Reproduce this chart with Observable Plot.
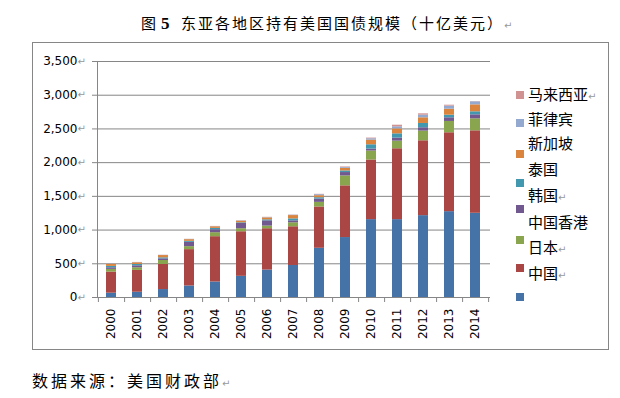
<!DOCTYPE html>
<html><head><meta charset="utf-8">
<script src="https://cdn.jsdelivr.net/npm/d3@7"></script>
<script src="https://cdn.jsdelivr.net/npm/@observablehq/plot@0.6"></script>
<style>
body{margin:0;background:#fff;}
#wrap{position:relative;width:620px;height:398px;overflow:hidden;}
#wrap svg{position:absolute;left:0;top:0;}
.box{position:absolute;left:32px;top:42px;width:577px;height:308px;border:1px solid #868686;box-sizing:border-box;}
.cjk{position:absolute;font-family:"Noto Sans CJK SC","Noto Sans",sans-serif;color:#000;white-space:nowrap;}
.pm{font-family:"DejaVu Sans",sans-serif;color:#999;font-size:10px;letter-spacing:0;}
.sw{position:absolute;width:8px;height:8px;}
</style></head>
<body><div id="wrap"><div class="box"></div></div>
<script>
const years = ["2000","2001","2002","2003","2004","2005","2006","2007","2008","2009","2010","2011","2012","2013","2014"];
// stacking order, bottom to top
const seriesNames = ["中国","日本","中国香港","韩国","泰国","新加坡","菲律宾","马来西亚"];
const seriesColors = ["#4572A7","#AA4643","#89A54E","#71588F","#4198AF","#DB843D","#93A9CF","#D19392"];
const china     = [64, 78, 118, 171, 230, 314, 407, 475, 730, 889, 1155, 1155, 1214, 1273, 1249];
const japan     = [313, 324, 372, 539, 672, 661, 613, 574, 613, 767, 884, 1051, 1110, 1170, 1223];
const hongkong  = [40, 39, 59, 44, 59, 45, 39, 59, 68, 147, 133, 113, 144, 168, 178];
const korea     = [24, 29, 24, 64, 44, 78, 78, 29, 49, 50, 29, 45, 49, 54, 59];
const thailand  = [20, 20, 15, 15, 20, 10, 15, 29, 20, 24, 64, 63, 64, 39, 45];
const singapore = [29, 25, 34, 25, 24, 24, 29, 49, 30, 39, 69, 74, 84, 89, 103];
const philippines = [3, 3, 3, 3, 3, 5, 5, 5, 15, 12, 20, 30, 39, 45, 45];
const malaysia  = [2, 2, 2, 2, 2, 3, 3, 3, 5, 8, 10, 24, 20, 14, 3];
const yTicks = [0, 500, 1000, 1500, 2000, 2500, 3000, 3500];

const seriesValues = [china, japan, hongkong, korea, thailand, singapore, philippines, malaysia];
const data = [];
seriesNames.forEach((s, k) => years.forEach((y, i) => data.push({year: y, series: s, value: seriesValues[k][i]})));

const gray = "#868686";
const mL = 97, mR = 130, W = 620;
const step = (W - mL - mR) / years.length;

const chart = Plot.plot({
  width: W, height: 398,
  marginLeft: mL, marginRight: mR, marginTop: 61, marginBottom: 101,
  style: {fontFamily: "DejaVu Sans", fontSize: "12px", background: "transparent", color: "#000", overflow: "visible"},
  x: {type: "band", domain: years, padding: 0.6, paddingOuter: 0.3, label: null},
  y: {domain: [0, 3500], label: null},
  color: {domain: seriesNames, range: seriesColors},
  marks: [
    Plot.gridY(yTicks, {stroke: gray, strokeOpacity: 1}),
    Plot.frame({anchor: "left", stroke: gray}),
    Plot.barY(data, {x: "year", y: "value", fill: "series"}),
    Plot.axisY(yTicks, {tickSize: 5, tickPadding: 15, tickFormat: d3.format(","), stroke: gray, fill: "#000", fontSize: 12, label: null}),
    Plot.text(yTicks, {y: d => d, frameAnchor: "left", dx: -20, text: () => "↵", textAnchor: "start", fill: "#999", fontSize: 10}),
    Plot.axisX({tickRotate: -90, tickSize: 0, tickPadding: 11, fill: "#000", fontSize: 12, label: null}),
    Plot.ruleX(years, {x: d => d, dx: step / 2, y1: 0, y2: 0, insetBottom: -5, stroke: gray}),
    Plot.ruleX([years[0]], {x: d => d, dx: -step / 2, y1: 0, y2: 0, insetBottom: -5, stroke: gray})
  ]
});
const wrap = document.getElementById("wrap");
wrap.appendChild(chart);

function addText(html, left, centerY, size, spacing, lh) {
  const d = document.createElement("div");
  d.className = "cjk";
  d.style.left = left + "px";
  d.style.top = (centerY - lh / 2) + "px";
  d.style.fontSize = size + "px";
  d.style.lineHeight = lh + "px";
  d.style.letterSpacing = spacing + "px";
  d.innerHTML = html;
  wrap.appendChild(d);
}
// title
addText("图", 141, 23, 15, 0, 20);
addText('<span style="font-family:\'Liberation Serif\',serif;font-weight:bold;font-size:17px">5</span>', 161, 23, 15, 0, 20);
addText('东亚各地区持有美国国债规模（十亿美元）<span class="pm">↵</span>', 181, 23, 15, 2, 20);
// source
addText('数据来源：美国财政部<span class="pm">↵</span>', 32, 380, 16, 3, 20);

// legend (as drawn in the reference)
const swatchY = [95, 123, 154, 183, 209, 240, 268, 297];
const swatchColors = seriesColors.slice().reverse();
swatchY.forEach((y, i) => {
  const s = document.createElement("div");
  s.className = "sw";
  s.style.left = "516px";
  s.style.top = (y - 4) + "px";
  s.style.background = swatchColors[i];
  wrap.appendChild(s);
});
const legendLabels = ['马来西亚<span class="pm">↵</span>', '菲律宾', '新加坡', '泰国', '韩国<span class="pm">↵</span>', '中国香港', '日本<span class="pm">↵</span>', '中国<span class="pm">↵</span>'];
const labelY = [94, 119, 143, 169, 195, 222, 247, 273];
legendLabels.forEach((t, i) => addText(t, 528, labelY[i], 15, 0, 18));
</script>
</body></html>
